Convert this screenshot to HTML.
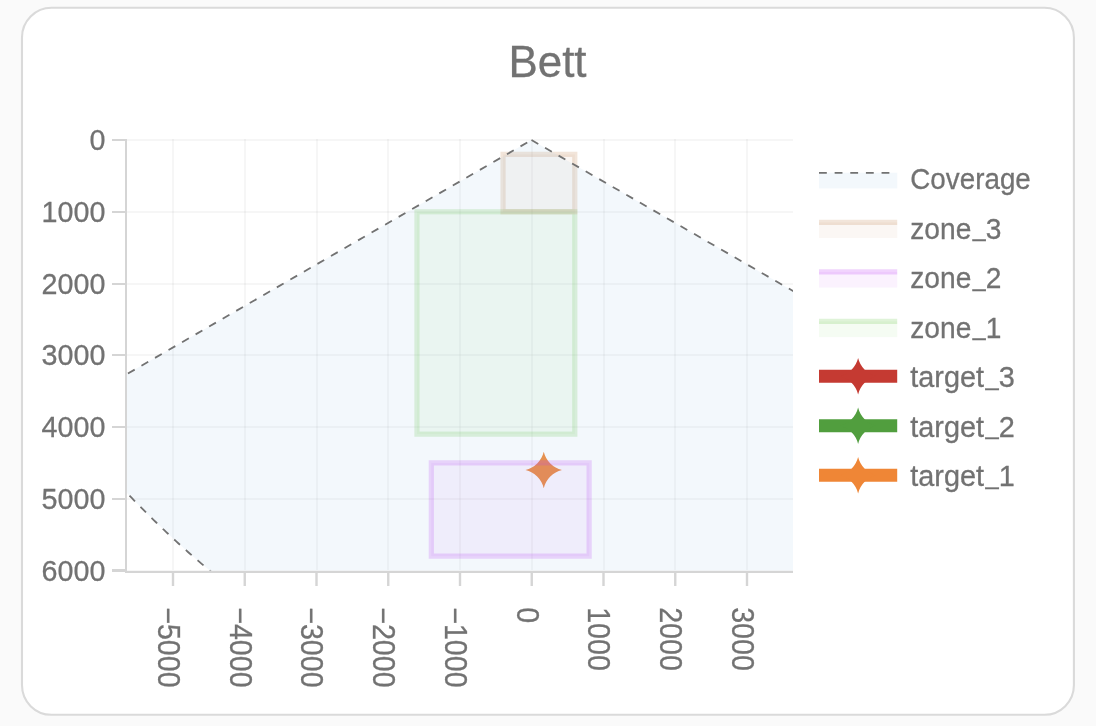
<!DOCTYPE html>
<html lang="de"><head><meta charset="utf-8"><title>Bett</title>
<style>
html,body{margin:0;padding:0;}
body{width:1096px;height:726px;overflow:hidden;background:#fafafa;position:relative;font-family:"Liberation Sans", sans-serif;}
svg{position:absolute;left:0;top:0;}
text{font-family:"Liberation Sans", sans-serif;fill:#727272;stroke:#727272;stroke-width:0.3px;}
</style></head><body>
<svg width="1096" height="726" viewBox="0 0 1096 726">
<rect x="22" y="7.8" width="1051.9" height="707" rx="29.5" ry="29.5" fill="#ffffff" stroke="#dadada" stroke-width="2.1"/>
<defs><clipPath id="plot"><rect x="127.0" y="139.0" width="666.0" height="431.4"/></clipPath></defs>

<text x="547.5" y="76.7" text-anchor="middle" font-size="43.9">Bett</text>
<g stroke="rgba(0,0,0,0.035)" stroke-width="2" fill="none" shape-rendering="crispEdges">
<path d="M173.00,139.0V570.4"/>
<path d="M244.75,139.0V570.4"/>
<path d="M316.50,139.0V570.4"/>
<path d="M388.25,139.0V570.4"/>
<path d="M460.00,139.0V570.4"/>
<path d="M531.75,139.0V570.4"/>
<path d="M603.50,139.0V570.4"/>
<path d="M675.25,139.0V570.4"/>
<path d="M747.00,139.0V570.4"/>
<path d="M127.0,140.00H793.0"/>
<path d="M127.0,211.75H793.0"/>
<path d="M127.0,283.50H793.0"/>
<path d="M127.0,355.25H793.0"/>
<path d="M127.0,427.00H793.0"/>
<path d="M127.0,498.75H793.0"/>
<path d="M127.0,570.50H793.0"/>
</g>
<g clip-path="url(#plot)">
<path d="M525.50,470.00A24.77,24.77 0 0 1 543.75,488.25A24.77,24.77 0 0 1 562.00,470.00A24.77,24.77 0 0 1 543.75,451.75A24.77,24.77 0 0 1 525.50,470.00Z" fill="#ef8636"/>
<rect x="416.95" y="211.75" width="157.85" height="222.42" fill="rgba(93,197,58,0.06)" stroke="rgba(93,197,58,0.2)" stroke-width="5.21"/>
<rect x="431.30" y="462.88" width="157.85" height="93.27" fill="rgba(183,38,246,0.06)" stroke="rgba(183,38,246,0.2)" stroke-width="5.21"/>
<rect x="503.05" y="154.35" width="71.75" height="57.40" fill="rgba(189,124,68,0.06)" stroke="rgba(189,124,68,0.2)" stroke-width="5.21"/>
<path d="M531.50,140.00L931.50,370.94L931.50,700.00L214.00,700.00L214.00,574.07L212.00,572.43L210.00,570.78L208.00,569.12L206.00,567.46L204.00,565.78L202.00,564.09L200.00,562.38L198.00,560.67L196.00,558.95L194.00,557.22L192.00,555.47L190.00,553.72L188.00,551.96L186.00,550.18L184.00,548.39L182.00,546.60L180.00,544.79L178.00,542.97L176.00,541.14L174.00,539.30L172.00,537.45L170.00,535.59L168.00,533.72L166.00,531.84L164.00,529.94L162.00,528.04L160.00,526.12L158.00,524.20L156.00,522.26L154.00,520.32L152.00,518.36L150.00,516.39L148.00,514.41L146.00,512.43L144.00,510.43L142.00,508.42L140.00,506.39L138.00,504.36L136.00,502.32L134.00,500.27L132.00,498.20L130.00,496.13L128.00,494.04L126.00,491.95L124.00,489.84L122.00,487.72L120.00,485.60L118.00,483.46L116.00,481.31L114.00,479.15L112.00,476.98L110.00,474.80L108.00,472.61L106.00,470.40L104.00,468.19L102.00,465.97L100.00,463.73L31.50,463.73L31.50,429.35Z" fill="rgba(176,211,238,0.15)" stroke="none"/>
<path d="M531.5,140.0L931.50,370.94" fill="none" stroke="#727272" stroke-width="1.8" stroke-dasharray="7.82,7.82"/>
<path d="M531.5,140.0L31.50,429.35" fill="none" stroke="#727272" stroke-width="1.8" stroke-dasharray="7.82,7.82" stroke-dashoffset="10.74"/>
<path d="M214.00,574.07L212.00,572.43L210.00,570.78L208.00,569.12L206.00,567.46L204.00,565.78L202.00,564.09L200.00,562.38L198.00,560.67L196.00,558.95L194.00,557.22L192.00,555.47L190.00,553.72L188.00,551.96L186.00,550.18L184.00,548.39L182.00,546.60L180.00,544.79L178.00,542.97L176.00,541.14L174.00,539.30L172.00,537.45L170.00,535.59L168.00,533.72L166.00,531.84L164.00,529.94L162.00,528.04L160.00,526.12L158.00,524.20L156.00,522.26L154.00,520.32L152.00,518.36L150.00,516.39L148.00,514.41L146.00,512.43L144.00,510.43L142.00,508.42L140.00,506.39L138.00,504.36L136.00,502.32L134.00,500.27L132.00,498.20L130.00,496.13L128.00,494.04L126.00,491.95L124.00,489.84L122.00,487.72L120.00,485.60L118.00,483.46L116.00,481.31L114.00,479.15L112.00,476.98L110.00,474.80L108.00,472.61L106.00,470.40L104.00,468.19L102.00,465.97L100.00,463.73" fill="none" stroke="#727272" stroke-width="1.8" stroke-dasharray="7.82,7.82" stroke-dashoffset="-13.64"/>
</g>
<g stroke="#d5d5d5" fill="none" shape-rendering="crispEdges">
<path d="M126,139V573" stroke-width="2"/>
<path d="M125,572H793.0" stroke-width="2"/>
<path d="M112,140.00H125" stroke-width="2"/>
<path d="M112,211.75H125" stroke-width="2"/>
<path d="M112,283.50H125" stroke-width="2"/>
<path d="M112,355.25H125" stroke-width="2"/>
<path d="M112,427.00H125" stroke-width="2"/>
<path d="M112,498.75H125" stroke-width="2"/>
<path d="M112,570.50H125" stroke-width="3"/>
<path d="M173.00,573V586" stroke-width="2.4" shape-rendering="auto"/>
<path d="M244.75,573V586" stroke-width="2.4" shape-rendering="auto"/>
<path d="M316.50,573V586" stroke-width="2.4" shape-rendering="auto"/>
<path d="M388.25,573V586" stroke-width="2.4" shape-rendering="auto"/>
<path d="M460.00,573V586" stroke-width="2.4" shape-rendering="auto"/>
<path d="M531.75,573V586" stroke-width="2.4" shape-rendering="auto"/>
<path d="M603.50,573V586" stroke-width="2.4" shape-rendering="auto"/>
<path d="M675.25,573V586" stroke-width="2.4" shape-rendering="auto"/>
<path d="M747.00,573V586" stroke-width="2.4" shape-rendering="auto"/>
</g>
<text transform="translate(105.5,150.20) scale(0.948,1)" text-anchor="end" font-size="30.3">0</text>
<text transform="translate(105.5,221.95) scale(0.948,1)" text-anchor="end" font-size="30.3">1000</text>
<text transform="translate(105.5,293.70) scale(0.948,1)" text-anchor="end" font-size="30.3">2000</text>
<text transform="translate(105.5,365.45) scale(0.948,1)" text-anchor="end" font-size="30.3">3000</text>
<text transform="translate(105.5,437.20) scale(0.948,1)" text-anchor="end" font-size="30.3">4000</text>
<text transform="translate(105.5,508.95) scale(0.948,1)" text-anchor="end" font-size="30.3">5000</text>
<text transform="translate(105.5,580.70) scale(0.948,1)" text-anchor="end" font-size="30.3">6000</text>
<text transform="translate(157.80,607.2) rotate(90) scale(0.924,1)" font-size="31.0">−5000</text>
<text transform="translate(229.55,607.2) rotate(90) scale(0.924,1)" font-size="31.0">−4000</text>
<text transform="translate(301.30,607.2) rotate(90) scale(0.924,1)" font-size="31.0">−3000</text>
<text transform="translate(373.05,607.2) rotate(90) scale(0.924,1)" font-size="31.0">−2000</text>
<text transform="translate(444.80,607.2) rotate(90) scale(0.924,1)" font-size="31.0">−1000</text>
<text transform="translate(516.55,607.2) rotate(90) scale(0.924,1)" font-size="31.0">0</text>
<text transform="translate(588.30,607.2) rotate(90) scale(0.924,1)" font-size="31.0">1000</text>
<text transform="translate(660.05,607.2) rotate(90) scale(0.924,1)" font-size="31.0">2000</text>
<text transform="translate(731.80,607.2) rotate(90) scale(0.924,1)" font-size="31.0">3000</text>
<rect x="819.0" y="172.79" width="78.21" height="15.64" fill="rgba(176,211,238,0.15)"/>
<path d="M819.0,172.79h78.21" stroke="#727272" stroke-width="1.8" stroke-dasharray="7.82,7.82" fill="none"/>
<text transform="translate(910.3,189.00) scale(0.9177,1)" font-size="30.3">Coverage</text>
<rect x="819.0" y="222.34" width="78.21" height="15.64" fill="rgba(189,124,68,0.06)"/>
<path d="M819.0,222.34h78.21" stroke="rgba(189,124,68,0.2)" stroke-width="5.21" fill="none"/>
<text transform="translate(910.3,238.55) scale(0.9290,1)" font-size="30.3">zone<tspan font-size="24.85" dx="1.6" dy="-2.4">_</tspan><tspan dy="2.4">3</tspan></text>
<rect x="819.0" y="271.89" width="78.21" height="15.64" fill="rgba(183,38,246,0.06)"/>
<path d="M819.0,271.89h78.21" stroke="rgba(183,38,246,0.2)" stroke-width="5.21" fill="none"/>
<text transform="translate(910.3,288.10) scale(0.9290,1)" font-size="30.3">zone<tspan font-size="24.85" dx="1.6" dy="-2.4">_</tspan><tspan dy="2.4">2</tspan></text>
<rect x="819.0" y="321.44" width="78.21" height="15.64" fill="rgba(93,197,58,0.06)"/>
<path d="M819.0,321.44h78.21" stroke="rgba(93,197,58,0.2)" stroke-width="5.21" fill="none"/>
<text transform="translate(910.3,337.65) scale(0.9290,1)" font-size="30.3">zone<tspan font-size="24.85" dx="1.6" dy="-2.4">_</tspan><tspan dy="2.4">1</tspan></text>
<path d="M819.0,376.20h78.21" stroke="#c53a32" stroke-width="13.04" fill="none"/>
<path d="M839.86,376.20A24.77,24.77 0 0 1 858.11,394.45A24.77,24.77 0 0 1 876.35,376.20A24.77,24.77 0 0 1 858.11,357.95A24.77,24.77 0 0 1 839.86,376.20Z" fill="#c53a32"/>
<text transform="translate(910.3,387.20) scale(0.9527,1)" font-size="30.3">target<tspan font-size="24.85" dx="1.6" dy="-2.4">_</tspan><tspan dy="2.4">3</tspan></text>
<path d="M819.0,425.75h78.21" stroke="#519e3e" stroke-width="13.04" fill="none"/>
<path d="M839.86,425.75A24.77,24.77 0 0 1 858.11,444.00A24.77,24.77 0 0 1 876.35,425.75A24.77,24.77 0 0 1 858.11,407.50A24.77,24.77 0 0 1 839.86,425.75Z" fill="#519e3e"/>
<text transform="translate(910.3,436.75) scale(0.9527,1)" font-size="30.3">target<tspan font-size="24.85" dx="1.6" dy="-2.4">_</tspan><tspan dy="2.4">2</tspan></text>
<path d="M819.0,475.30h78.21" stroke="#ef8636" stroke-width="13.04" fill="none"/>
<path d="M839.86,475.30A24.77,24.77 0 0 1 858.11,493.55A24.77,24.77 0 0 1 876.35,475.30A24.77,24.77 0 0 1 858.11,457.05A24.77,24.77 0 0 1 839.86,475.30Z" fill="#ef8636"/>
<text transform="translate(910.3,486.30) scale(0.9527,1)" font-size="30.3">target<tspan font-size="24.85" dx="1.6" dy="-2.4">_</tspan><tspan dy="2.4">1</tspan></text>
</svg></body></html>
